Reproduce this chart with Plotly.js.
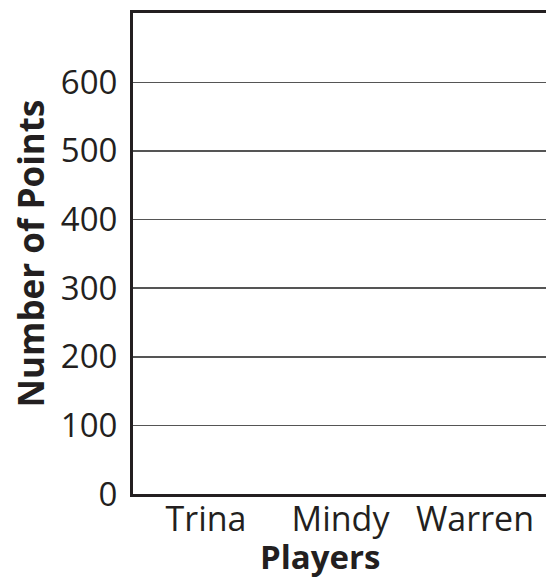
<!DOCTYPE html>
<html>
<head>
<meta charset="utf-8">
<script src="https://cdn.plot.ly/plotly-3.0.1.min.js"></script>
<style>
html,body{margin:0;padding:0;background:#fff;}
#chart{width:546px;height:579px;}
</style>
</head>
<body>
<div id="chart"></div>
<script>
// Data (the reference graph is blank: no bars drawn yet)
const players = ["Trina", "Mindy", "Warren"];
const points = [null, null, null];
const yTicks = [0, 100, 200, 300, 400, 500, 600];

const trace = {
  type: "bar",
  x: players,
  y: points,
  marker: {color: "#1f77b4"},
  hoverinfo: "skip"
};

const fontFam = "'Open Sans', 'Noto Sans', sans-serif";
const ink = "#231f20";

const layout = {
  width: 546,
  height: 579,
  margin: {l: 133, r: 0, t: 13, b: 85},
  paper_bgcolor: "#fff",
  plot_bgcolor: "#fff",
  showlegend: false,
  font: {family: fontFam, color: ink},
  xaxis: {
    type: "category",
    range: [-0.543, 2.528],
    showgrid: false,
    showline: true,
    linecolor: ink,
    linewidth: 3,
    mirror: true,
    ticks: "",
    ticklabelstandoff: -7,
    tickfont: {size: 34, family: fontFam, color: ink},
    zeroline: false,
    fixedrange: true
  },
  yaxis: {
    range: [0, 701],
    tickvals: yTicks,
    ticktext: yTicks.map(String),
    showgrid: true,
    gridcolor: "#555",
    gridwidth: 1.5,
    showline: true,
    linecolor: ink,
    linewidth: 3,
    ticks: "",
    ticklabelstandoff: 6,
    tickfont: {size: 33, family: fontFam, color: ink},
    title: {text: "<b>Number of Points</b>", font: {size: 35, family: fontFam, color: ink}, standoff: 6},
    zeroline: false,
    fixedrange: true
  },
  annotations: [{
    text: "<b>Players</b>",
    xref: "paper", yref: "paper",
    x: (320 - 133) / 413, y: 0,
    xanchor: "center", yanchor: "middle",
    yshift: -62,
    showarrow: false,
    font: {size: 33, family: fontFam, color: ink}
  }]
};

Plotly.newPlot("chart", [trace], layout, {staticPlot: true, displayModeBar: false});
</script>
</body>
</html>
